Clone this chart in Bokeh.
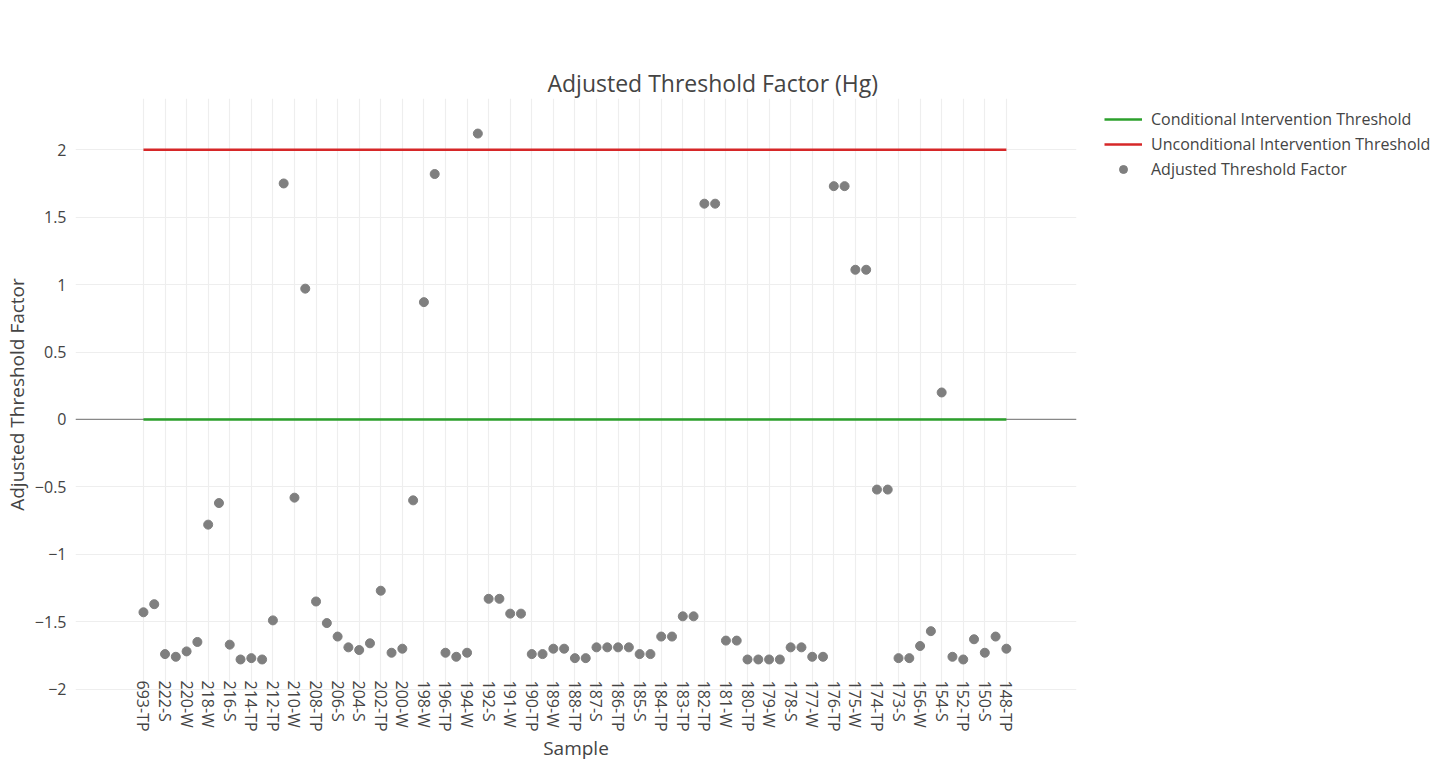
import math
from bokeh.plotting import figure
from bokeh.models import Range1d, FixedTicker, Legend, LegendItem, Span, Title
from bokeh.embed import file_html
from bokeh.resources import INLINE

samples = [
    "693-TP", "222-TP", "222-S", "221-W", "220-W", "219-S", "218-W", "217-TP",
    "216-S", "215-W", "214-TP", "213-S", "212-TP", "211-W", "210-W", "209-S",
    "208-TP", "207-W", "206-S", "205-TP", "204-S", "203-W", "202-TP", "201-S",
    "200-W", "199-TP", "198-W", "197-S", "196-TP", "195-W", "194-W", "193-TP",
    "192-S", "192-W", "191-W", "191-TP", "190-TP", "190-S", "189-W", "189-TP",
    "188-TP", "188-S", "187-S", "187-W", "186-TP", "186-S", "185-S", "185-W",
    "184-TP", "184-S", "183-TP", "183-S", "182-TP", "182-S", "181-W", "181-S",
    "180-TP", "180-S", "179-W", "179-S", "178-S", "178-W", "177-W", "177-S",
    "176-TP", "176-S", "175-W", "175-S", "174-TP", "174-S", "173-S", "173-W",
    "156-W", "155-S", "154-S", "153-W", "152-TP", "151-W", "150-S", "149-W",
    "148-TP",
]

factor = [
    -1.43, -1.37, -1.74, -1.76, -1.72, -1.65, -0.78, -0.62,
    -1.67, -1.78, -1.77, -1.78, -1.49, 1.75, -0.58, 0.97,
    -1.35, -1.51, -1.61, -1.69, -1.71, -1.66, -1.27, -1.73,
    -1.70, -0.60, 0.87, 1.82, -1.73, -1.76, -1.73, 2.12,
    -1.33, -1.33, -1.44, -1.44, -1.74, -1.74, -1.70, -1.70,
    -1.77, -1.77, -1.69, -1.69, -1.69, -1.69, -1.74, -1.74,
    -1.61, -1.61, -1.46, -1.46, 1.60, 1.60, -1.64, -1.64,
    -1.78, -1.78, -1.78, -1.78, -1.69, -1.69, -1.76, -1.76,
    1.73, 1.73, 1.11, 1.11, -0.52, -0.52, -1.77, -1.77,
    -1.68, -1.57, 0.20, -1.76, -1.78, -1.63, -1.73, -1.61,
    -1.70,
]

title_text = "Adjusted Threshold Factor (Hg)"
conditional_level = 0.0
unconditional_level = 2.0
y_ticks = [-2, -1.5, -1, -0.5, 0, 0.5, 1, 1.5, 2]

FONT = "Open Sans"
TXT = "#444444"

x = list(range(len(samples)))
cond = [conditional_level] * len(samples)
uncond = [unconditional_level] * len(samples)

p = figure(
    frame_width=1001, frame_height=592,
    output_backend="svg", toolbar_location=None,
    x_range=Range1d(-6.3, 86.5), y_range=Range1d(-2.01, 2.38),
    min_border_left=67, min_border_right=355, min_border_top=98, min_border_bottom=40,
)
p.outline_line_color = None
p.background_fill_color = "white"

# title, kept away from the frame by an empty spacer title between them
p.title.text = title_text
p.title.text_font = FONT
p.title.text_font_size = "23px"
p.title.text_font_style = "normal"
p.title.text_color = TXT
p.title.align = "left"
p.title.offset = 472
p.title.standoff = 0
spacer = Title(text="", text_font_size="1px", standoff=61)
p.above = [r for r in p.above if r is not spacer] + [spacer]

# axes
xticker = FixedTicker(ticks=x[::2])
xa = p.xaxis[0]
xa.ticker = xticker
p.xgrid[0].ticker = xticker
xa.major_label_overrides = {i: samples[i] for i in x[::2]}
xa.major_label_orientation = -math.pi / 2
xa.axis_line_color = None
xa.major_tick_line_color = None
xa.minor_tick_line_color = None
xa.major_label_text_font = FONT
xa.major_label_text_font_size = "16px"
xa.major_label_text_color = TXT
xa.major_label_standoff = -16
xa.axis_label = "Sample"
xa.axis_label_text_font = FONT
xa.axis_label_text_font_size = "19px"
xa.axis_label_text_font_style = "normal"
xa.axis_label_text_color = TXT
xa.axis_label_standoff = 0

yticker = FixedTicker(ticks=y_ticks)
ya = p.yaxis[0]
ya.ticker = yticker
p.ygrid[0].ticker = yticker
ya.major_label_overrides = {t: (("\u2212" if t < 0 else "") + ("%g" % abs(t))) for t in y_ticks}
ya.axis_line_color = None
ya.major_tick_line_color = None
ya.minor_tick_line_color = None
ya.major_label_text_font = FONT
ya.major_label_text_font_size = "16px"
ya.major_label_text_color = TXT
ya.major_label_standoff = 3
ya.axis_label = "Adjusted Threshold Factor"
ya.axis_label_text_font = FONT
ya.axis_label_text_font_size = "19px"
ya.axis_label_text_font_style = "normal"
ya.axis_label_text_color = TXT
ya.axis_label_standoff = 2

for g in (p.xgrid[0], p.ygrid[0]):
    g.grid_line_color = "#eeeeee"
    g.grid_line_width = 1.2

zero = Span(location=0, dimension="width", line_color="#888888", line_width=1.3, level="underlay")
p.add_layout(zero)

r_cond = p.line(x, cond, line_color="#2ca02c", line_width=2.4)
r_uncond = p.line(x, uncond, line_color="#d62728", line_width=2.4)
r_pts = p.scatter(x, factor, size=9, fill_color="#7f7f7f", line_color="#7f7f7f")

legend = Legend(
    items=[
        LegendItem(label="Conditional Intervention Threshold", renderers=[r_cond]),
        LegendItem(label="Unconditional Intervention Threshold", renderers=[r_uncond]),
        LegendItem(label="Adjusted Threshold Factor", renderers=[r_pts]),
    ],
    border_line_color=None,
    background_fill_alpha=0,
    label_text_font=FONT,
    label_text_font_size="16px",
    label_text_color=TXT,
    glyph_width=38,
    glyph_height=20,
    label_height=20,
    spacing=3,
    label_standoff=9,
    margin=0,
    padding=0,
)
legend.location = (28, 510)
p.add_layout(legend, "right")

open("out.html", "w").write(file_html(p, INLINE))
